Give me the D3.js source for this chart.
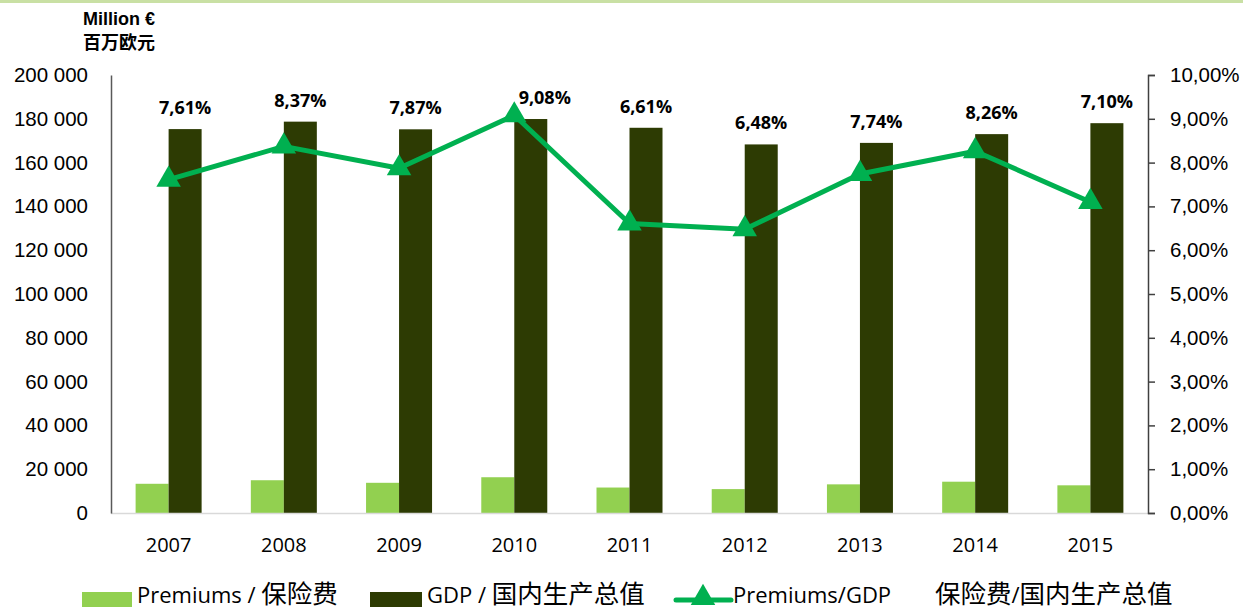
<!DOCTYPE html>
<html><head><meta charset="utf-8">
<script src="https://cdn.jsdelivr.net/npm/d3@7"></script>
<style>
body{margin:0;background:#fff;}
svg{display:block;font-family:"Open Sans","Noto Sans CJK SC",sans-serif;}
</style></head>
<body><svg id="c" width="1243" height="612"></svg>
<script>
const years = ["2007","2008","2009","2010","2011","2012","2013","2014","2015"];
const gdp = [175300, 178700, 175200, 179900, 175900, 168300, 169000, 173000, 178000];
const premiums = [13340, 14960, 13790, 16330, 11630, 10910, 13080, 14290, 12640];
const ratio = [7.61, 8.37, 7.87, 9.08, 6.61, 6.48, 7.74, 8.26, 7.10];
const leftTicks = [0,20000,40000,60000,80000,100000,120000,140000,160000,180000,200000];
const rightTicks = [0,1,2,3,4,5,6,7,8,9,10];

const svg = d3.select("#c");
const L = 111, R = 1148, T = 75, B = 513;
const x = d3.scaleBand().domain(years).range([L, R]).padding(0);
const y = d3.scaleLinear().domain([0, 200000]).range([B, T]);
const y2 = d3.scaleLinear().domain([0, 10]).range([B, T]);
const bw = 33;
const fmtN = d => d3.format(",")(d).replace(/,/g, " ");
const fmtP = d => d.toFixed(2).replace(".", ",") + "%";

// top band
svg.append("rect").attr("x",0).attr("y",0).attr("width",1243).attr("height",3).attr("fill","#c9e0a4");

// title
const tf = "'Liberation Sans','Noto Sans CJK SC',sans-serif";
svg.append("text").attr("x",83).attr("y",25).attr("font-size",18).attr("font-weight","bold").attr("font-family",tf).attr("fill","#000").text("Million €");
svg.append("text").attr("x",83).attr("y",49).attr("font-size",18).attr("font-weight","bold").attr("font-family",tf).attr("fill","#000").text("百万欧元");

// bars
const g = svg.append("g");
g.selectAll(".p").data(years).join("rect")
  .attr("x", d => x(d) + x.bandwidth()/2 - bw)
  .attr("y", (d,i) => y(premiums[i]))
  .attr("width", bw).attr("height", (d,i) => B - y(premiums[i]))
  .attr("fill", "#92d050");
g.selectAll(".g").data(years).join("rect")
  .attr("x", d => x(d) + x.bandwidth()/2)
  .attr("y", (d,i) => y(gdp[i]))
  .attr("width", bw).attr("height", (d,i) => B - y(gdp[i]))
  .attr("fill", "#2d3b03");

// baseline
svg.append("line").attr("x1",L).attr("x2",R).attr("y1",B+0.5).attr("y2",B+0.5).attr("stroke","#d9d9d9").attr("stroke-width",1.5);

// left axis
const ax = svg.append("g").attr("transform",`translate(${L},0)`)
  .call(d3.axisLeft(y).tickValues(leftTicks).tickFormat(fmtN).tickSize(0).tickPadding(23));
ax.select(".domain").attr("stroke","#595959").attr("stroke-width",1.5);
ax.selectAll("text").attr("font-size",20.5).attr("fill","#000").attr("font-family",null);

// right axis
const ax2 = svg.append("g").attr("transform",`translate(${R},0)`)
  .call(d3.axisRight(y2).tickValues(rightTicks).tickFormat(fmtP).tickSize(7).tickSizeOuter(7).tickPadding(15));
ax2.select(".domain").attr("stroke","#404040").attr("stroke-width",1.5);
ax2.selectAll("line").attr("stroke","#404040").attr("stroke-width",1.5);
ax2.selectAll("text").attr("font-size",20.5).attr("fill","#000").attr("font-family",null);

// x labels
svg.append("g").selectAll("text").data(years).join("text")
  .attr("x", d => x(d) + x.bandwidth()/2).attr("y", 552)
  .attr("text-anchor","middle").attr("font-size",20).attr("fill","#000").text(d => d);

// line
const line = d3.line().x((d,i) => x(years[i]) + x.bandwidth()/2).y(d => y2(d));
svg.append("path").datum(ratio).attr("d", line).attr("fill","none").attr("stroke","#00b050").attr("stroke-width",5).attr("stroke-linejoin","round");
const tri = d3.symbol().type(d3.symbolTriangle).size(260);
svg.append("g").selectAll("path").data(ratio).join("path")
  .attr("transform",(d,i) => `translate(${x(years[i]) + x.bandwidth()/2},${y2(d)})`)
  .attr("d", tri).attr("fill","#00b050");

// data labels
svg.append("g").selectAll("text").data(ratio).join("text")
  .attr("x",(d,i) => x(years[i]) + x.bandwidth()/2 + bw/2 + (i===3 ? 14 : 0))
  .attr("y",(d,i) => y(gdp[i]) - 15)
  .attr("text-anchor","middle").attr("font-size",18).attr("font-weight","bold").attr("fill","#000")
  .text(d => fmtP(d));

// legend
const lg = svg.append("g").attr("fill","#000");
function legText(xp, parts){
  const t = lg.append("text").attr("x",xp).attr("y",603);
  parts.forEach(p => t.append("tspan").attr("font-size", p[1] ? 25.5 : 22).text(p[0]));
}
lg.append("rect").attr("x",82).attr("y",592).attr("width",50).attr("height",15).attr("fill","#92d050");
legText(137, [["Premiums / ",0],["保险费",1]]);
lg.append("rect").attr("x",370).attr("y",592).attr("width",52).attr("height",15).attr("fill","#2d3b03");
legText(427, [["GDP / ",0],["国内生产总值",1]]);
lg.append("line").attr("x1",676).attr("x2",731).attr("y1",600).attr("y2",600).attr("stroke","#00b050").attr("stroke-width",5).attr("stroke-linecap","round");
lg.append("path").attr("transform","translate(703,598)").attr("d",tri).attr("fill","#00b050");
legText(733, [["Premiums/GDP",0]]);
legText(935, [["保险费",1],["/",0],["国内生产总值",1]]);
</script></body></html>
